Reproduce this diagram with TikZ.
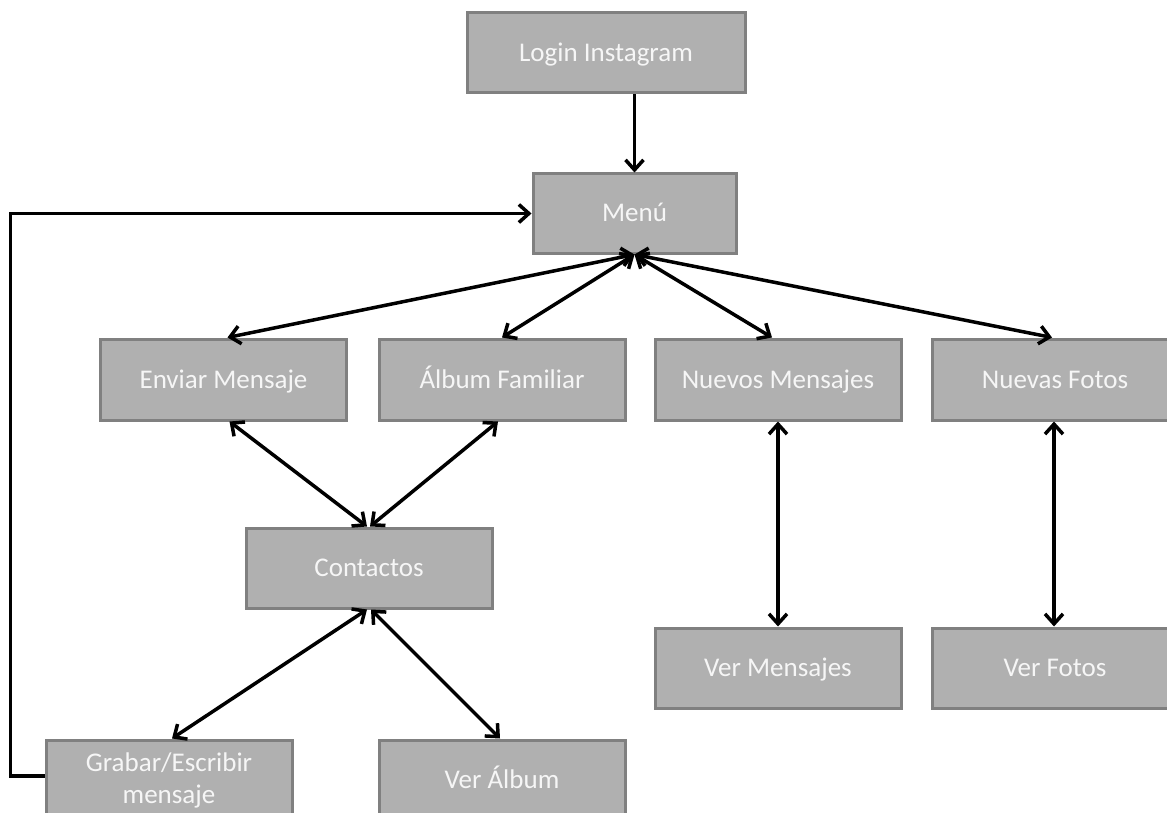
\documentclass[tikz,border=0pt]{standalone}
\usepackage{fontspec}
\setmainfont{Carlito}
\usetikzlibrary{arrows.meta,calc}
\definecolor{boxfill}{RGB}{176,176,176}
\definecolor{boxline}{RGB}{128,128,128}
\definecolor{boxtext}{RGB}{246,246,246}
\begin{document}
\begin{tikzpicture}[x=1pt,y=-1pt,
  flowbox/.style={draw=boxline,line width=3pt,fill=boxfill,minimum width=246pt,minimum height=80pt,
    inner sep=0pt,text=boxtext,font=\fontsize{27}{31}\selectfont,align=center},
  onebox/.style={flowbox,text height=20pt,text depth=3pt},
  link/.style={line width=3.5pt,{Straight Barb[length=10pt,width=18pt]}-{Straight Barb[length=10pt,width=18pt]}},
  onelink/.style={line width=3.5pt,-{Straight Barb[length=10pt,width=18pt]}}]
\useasboundingbox (0,0) rectangle (1167,813);
\clip (0,0) rectangle (1167,813);
\node[onebox,minimum width=278pt] (login) at (606,53) {Login Instagram};
\node[onebox,minimum width=203pt,minimum height=79pt] (menu) at (634.5,213.5) {Menú};
\node[onebox,minimum height=81pt] (enviar) at (223.5,379.5) {Enviar Mensaje};
\node[onebox,minimum height=81pt] (album) at (502,379.5) {Álbum Familiar};
\node[onebox,minimum height=81pt] (nmens) at (778,379.5) {Nuevos Mensajes};
\node[onebox,minimum height=81pt] (nfotos) at (1055,379.5) {Nuevas Fotos};
\node[onebox] (contactos) at (369,568) {Contactos};
\node[onebox] (vmens) at (778,668) {Ver Mensajes};
\node[onebox] (vfotos) at (1055,668) {Ver Fotos};
\node[flowbox] (grabar) at (169,780) {Grabar/Escribir\\[1pt]mensaje};
\node[onebox] (valbum) at (502,780) {Ver Álbum};

\draw[onelink] (login.south -| menu.north) -- (menu.north);
\draw[link] (menu.south) -- ($(enviar.north)+(4,0)$);
\draw[link] (menu.south) -- (album.north);
\draw[link] (menu.south) -- ($(nmens.north)+(-6,0)$);
\draw[link] (menu.south) -- ($(nfotos.north)+(-3,0)$);
\draw[link] ($(enviar.south)+(6,0)$) -- ($(contactos.north)+(-2,0)$);
\draw[link] ($(album.south)+(-4,0)$) -- ($(contactos.north)+(1,0)$);
\draw[link] ($(contactos.south)+(-2,0)$) -- ($(grabar.north)+(3,0)$);
\draw[link] ($(contactos.south)+(2,0)$) -- ($(valbum.north)+(-2,0)$);
\draw[link] (nmens.south) -- (vmens.north);
\draw[link] ($(nfotos.south)+(-1,0)$) -- ($(vfotos.north)+(-1,0)$);
\draw[onelink] ($(grabar.west)+(0,-4)$) -- ++(-34,0) |- (menu.west);
\end{tikzpicture}
\end{document}
